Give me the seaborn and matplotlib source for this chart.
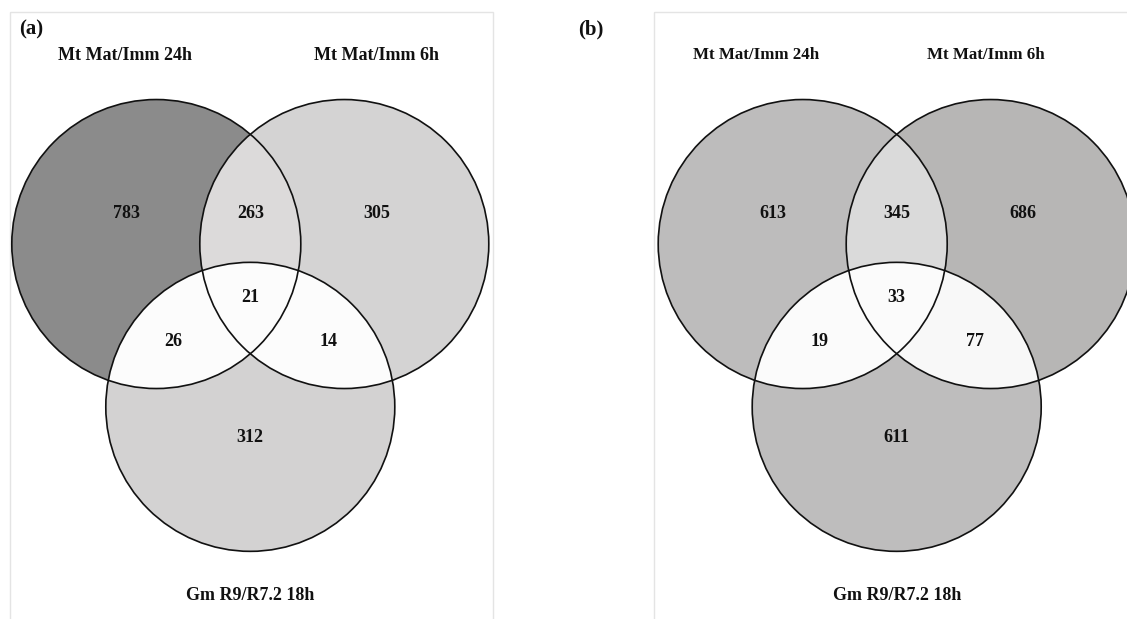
import matplotlib
matplotlib.use("Agg")
import matplotlib.pyplot as plt
from matplotlib.patches import Circle, Rectangle
import numpy as np
import seaborn as sns

sns.set_theme(style="white")
plt.rcParams['font.family'] = ['Liberation Serif', 'DejaVu Serif']

# ---------------- data ----------------
set_names = ["Mt Mat/Imm 24h", "Mt Mat/Imm 6h", "Gm R9/R7.2 18h"]
panel_tags = ["(a)", "(b)"]
# region counts: A only, B only, C only, AB, AC, BC, ABC
counts_a = [783, 305, 312, 263, 26, 14, 21]
counts_b = [613, 686, 611, 345, 19, 77, 33]
# region fill colours (same order)
colors_a = ["#8b8b8b", "#d4d3d3", "#d3d2d2", "#dcdada", "#fcfcfc", "#fcfcfc", "#fcfcfc"]
colors_b = ["#bdbcbc", "#b7b6b5", "#bebdbd", "#dadada", "#fbfbfb", "#f8f8f8", "#fbfbfb"]

# ---------------- layout (pixels) ----------------
W, H = 1127, 619
fig = plt.figure(figsize=(W / 100, H / 100), dpi=100)
ax = fig.add_axes([0, 0, 1, 1])
ax.set_xlim(0, W)
ax.set_ylim(H, 0)
ax.set_aspect("equal")
ax.axis("off")

R = 144.5
D = 188.0


def venn(cx, cy, counts, colors, name_dx, name_fs):
    h = D * np.sqrt(3) / 2
    cA = (cx - D / 2, cy - h / 3)
    cB = (cx + D / 2, cy - h / 3)
    cC = (cx, cy + 2 * h / 3)
    T = ax.transData
    clipA = Circle(cA, R, transform=T)
    clipB = Circle(cB, R, transform=T)
    ax.add_patch(Circle(cA, R, fc=colors[0], ec="none", zorder=1))
    ax.add_patch(Circle(cB, R, fc=colors[1], ec="none", zorder=1))
    pAB = Circle(cB, R, fc=colors[3], ec="none", zorder=2)
    ax.add_patch(pAB)
    pAB.set_clip_path(clipA)
    ax.add_patch(Circle(cC, R, fc=colors[2], ec="none", zorder=3))
    pBC = Circle(cC, R, fc=colors[5], ec="none", zorder=4)
    ax.add_patch(pBC)
    pBC.set_clip_path(clipB)
    pAC = Circle(cC, R, fc=colors[4], ec="none", zorder=5)
    ax.add_patch(pAC)
    pAC.set_clip_path(clipA)
    for c in (cA, cB, cC):
        ax.add_patch(Circle(c, R, fc="none", ec="#111111", lw=1.2, zorder=6))
    kw = dict(ha="center", va="center", fontsize=13, fontweight="bold", color="#111111", zorder=7)
    yt = cA[1] - 31
    ax.text(cA[0] - 30, yt, str(counts[0]), **kw)
    ax.text(cB[0] + 32, yt, str(counts[1]), **kw)
    ax.text(cx, cC[1] + 31, str(counts[2]), **kw)
    ax.text(cx, yt, str(counts[3]), **kw)
    ax.text(cx - 77, cy + 43, str(counts[4]), **kw)
    ax.text(cx + 78, cy + 43, str(counts[5]), **kw)
    ax.text(cx, cy - 1, str(counts[6]), **kw)
    lk = dict(ha="center", va="center", fontsize=name_fs, fontweight="bold", color="#111111")
    ax.text(cA[0] + name_dx[0], 55, set_names[0], **lk)
    ax.text(cB[0] + name_dx[1], 55, set_names[1], **lk)
    lk["fontsize"] = 13
    ax.text(cx, 596, set_names[2], **lk)


# panel frames
ax.add_patch(Rectangle((10, 12), 483, 640, fc="none", ec="#e4e4e4", lw=1.0, zorder=0))
ax.add_patch(Rectangle((654, 12), 500, 640, fc="none", ec="#e4e4e4", lw=1.0, zorder=0))

venn(250.3, 298.3, counts_a, colors_a, (-31, 32), 13)
venn(896.7, 298.3, counts_b, colors_b, (-47, -5), 12.2)

tk = dict(ha="center", va="center", fontsize=15, fontweight="bold", color="#111111")
ax.text(31, 29, panel_tags[0], **tk)
ax.text(591, 29, panel_tags[1], **tk)

fig.savefig("out.png", dpi=100)
